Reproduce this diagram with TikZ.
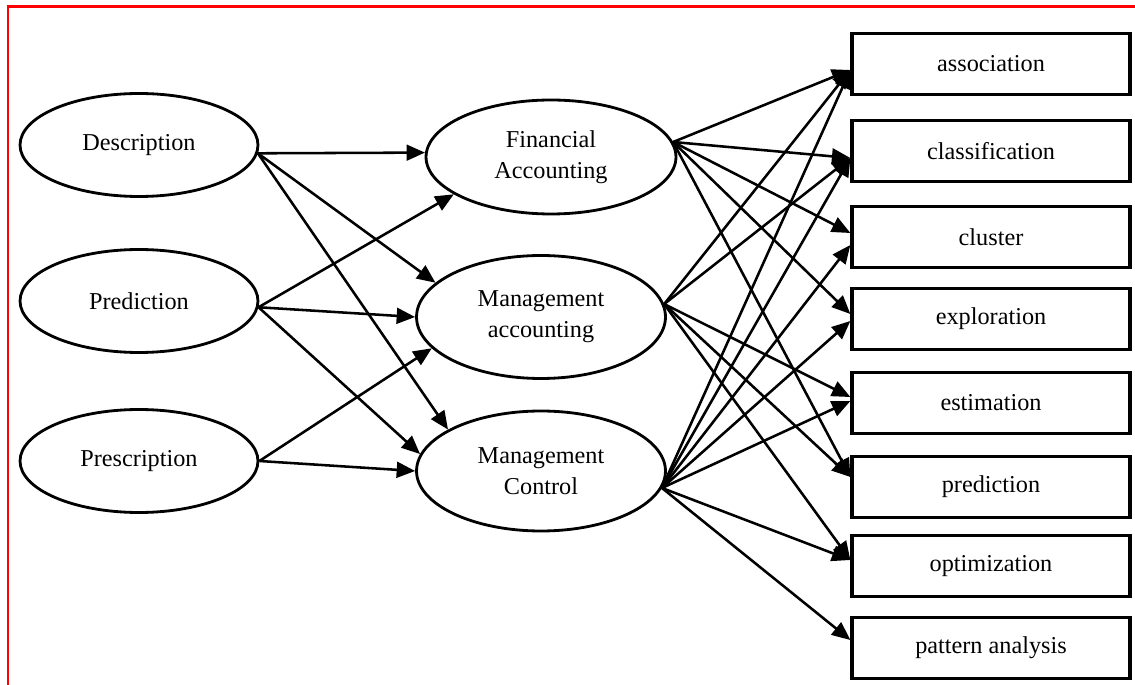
\documentclass[tikz,border=0pt]{standalone}
\usepackage{fontspec}
\setmainfont{Liberation Serif}
\usetikzlibrary{shapes.geometric,arrows.meta,calc}
\tikzset{ell/.style = {ellipse, line width=1.6pt, minimum width=4.76cm, minimum height=2.06cm, inner sep=0pt, draw, align=center},
         box/.style = {rectangle, line width=1.9pt, minimum width=5.56cm, minimum height=1.22cm, inner sep=0pt, draw},
         lnk/.style = {line width=1.45pt, -{Triangle[length=10.5pt,width=9pt]}}}

\begin{document}
\begin{tikzpicture}[x=0.02cm, y=-0.02cm, font=\fontsize{13.8}{17.6}\selectfont]
    \useasboundingbox (0,0) rectangle (1135,685);
    \draw[red, line width=1.2pt] (8,685) -- (8,6.5) -- (1135,6.5);
    % ways of analysing
    \node[ell] (desc)  at (139,145) {Description};
    \node[ell] (pred)  at (139,301) {Prediction};
    \node[ell] (presc) at (139,461) {Prescription};
    % accounting fields
    \node[ell, minimum width=5.0cm, minimum height=2.28cm] (fin)  at (551,157) {Financial\\Accounting};
    \node[ell, minimum width=4.98cm, minimum height=2.46cm] (mgt)  at (541,317) {Management\\accounting};
    \node[ell, minimum width=4.98cm, minimum height=2.4cm]  (ctrl) at (541,471) {Management\\Control};
    % mining tasks
    \node[box] (assoc)   at (991,64)  {association};
    \node[box] (classif) at (991,151) {classification};
    \node[box] (cluster) at (991,237) {cluster};
    \node[box] (explor)  at (991,319) {exploration};
    \node[box] (estim)   at (991,403) {estimation};
    \node[box] (predict) at (991,487) {prediction};
    \node[box] (optim)   at (991,566) {optimization};
    \node[box] (pattern) at (991,648) {pattern analysis};
    % left to middle
    \draw[lnk] (desc.-4) -- (fin.178);
    \draw[lnk] (desc.-4) -- (mgt.162);
    \draw[lnk] (desc.-4) -- (ctrl.156);
    \draw[lnk] (pred.-3) -- (fin.201);
    \draw[lnk] (pred.-3) -- (mgt.west);
    \draw[lnk] (pred.-3) -- (ctrl.172);
    \draw[lnk] (presc.east) -- (mgt.196);
    \draw[lnk] (presc.east) -- (ctrl.west);
    % middle to right
    \draw[lnk] (fin.7) -- ($(assoc.west)+(0,6)$);
    \draw[lnk] (fin.7) -- ($(classif.west)+(0,7)$);
    \draw[lnk] (fin.7) -- ($(cluster.west)+(0,-4)$);
    \draw[lnk] (fin.7) -- ($(explor.west)+(0,-5)$);
    \draw[lnk] (fin.7) -- ($(predict.west)+(0,-10)$);
    \draw[lnk] (mgt.6) -- ($(assoc.west)+(0,6)$);
    \draw[lnk] (mgt.6) -- ($(classif.west)+(0,7)$);
    \draw[lnk] (mgt.6) -- ($(estim.west)+(0,-6)$);
    \draw[lnk] (mgt.6) -- ($(predict.west)+(0,-10)$);
    \draw[lnk] (mgt.6) -- ($(optim.west)+(0,-6)$);
    \draw[lnk] (ctrl.-8) -- ($(assoc.west)+(0,6)$);
    \draw[lnk] (ctrl.-8) -- ($(classif.west)+(0,7)$);
    \draw[lnk] (ctrl.-8) -- ($(cluster.west)+(0,8)$);
    \draw[lnk] (ctrl.-8) -- ($(explor.west)+(0,2)$);
    \draw[lnk] (ctrl.-8) -- ($(estim.west)+(0,-2)$);
    \draw[lnk] (ctrl.-8) -- ($(optim.west)+(0,-6)$);
    \draw[lnk] (ctrl.-8) -- ($(pattern.west)+(0,-8)$);
\end{tikzpicture}
\end{document}
